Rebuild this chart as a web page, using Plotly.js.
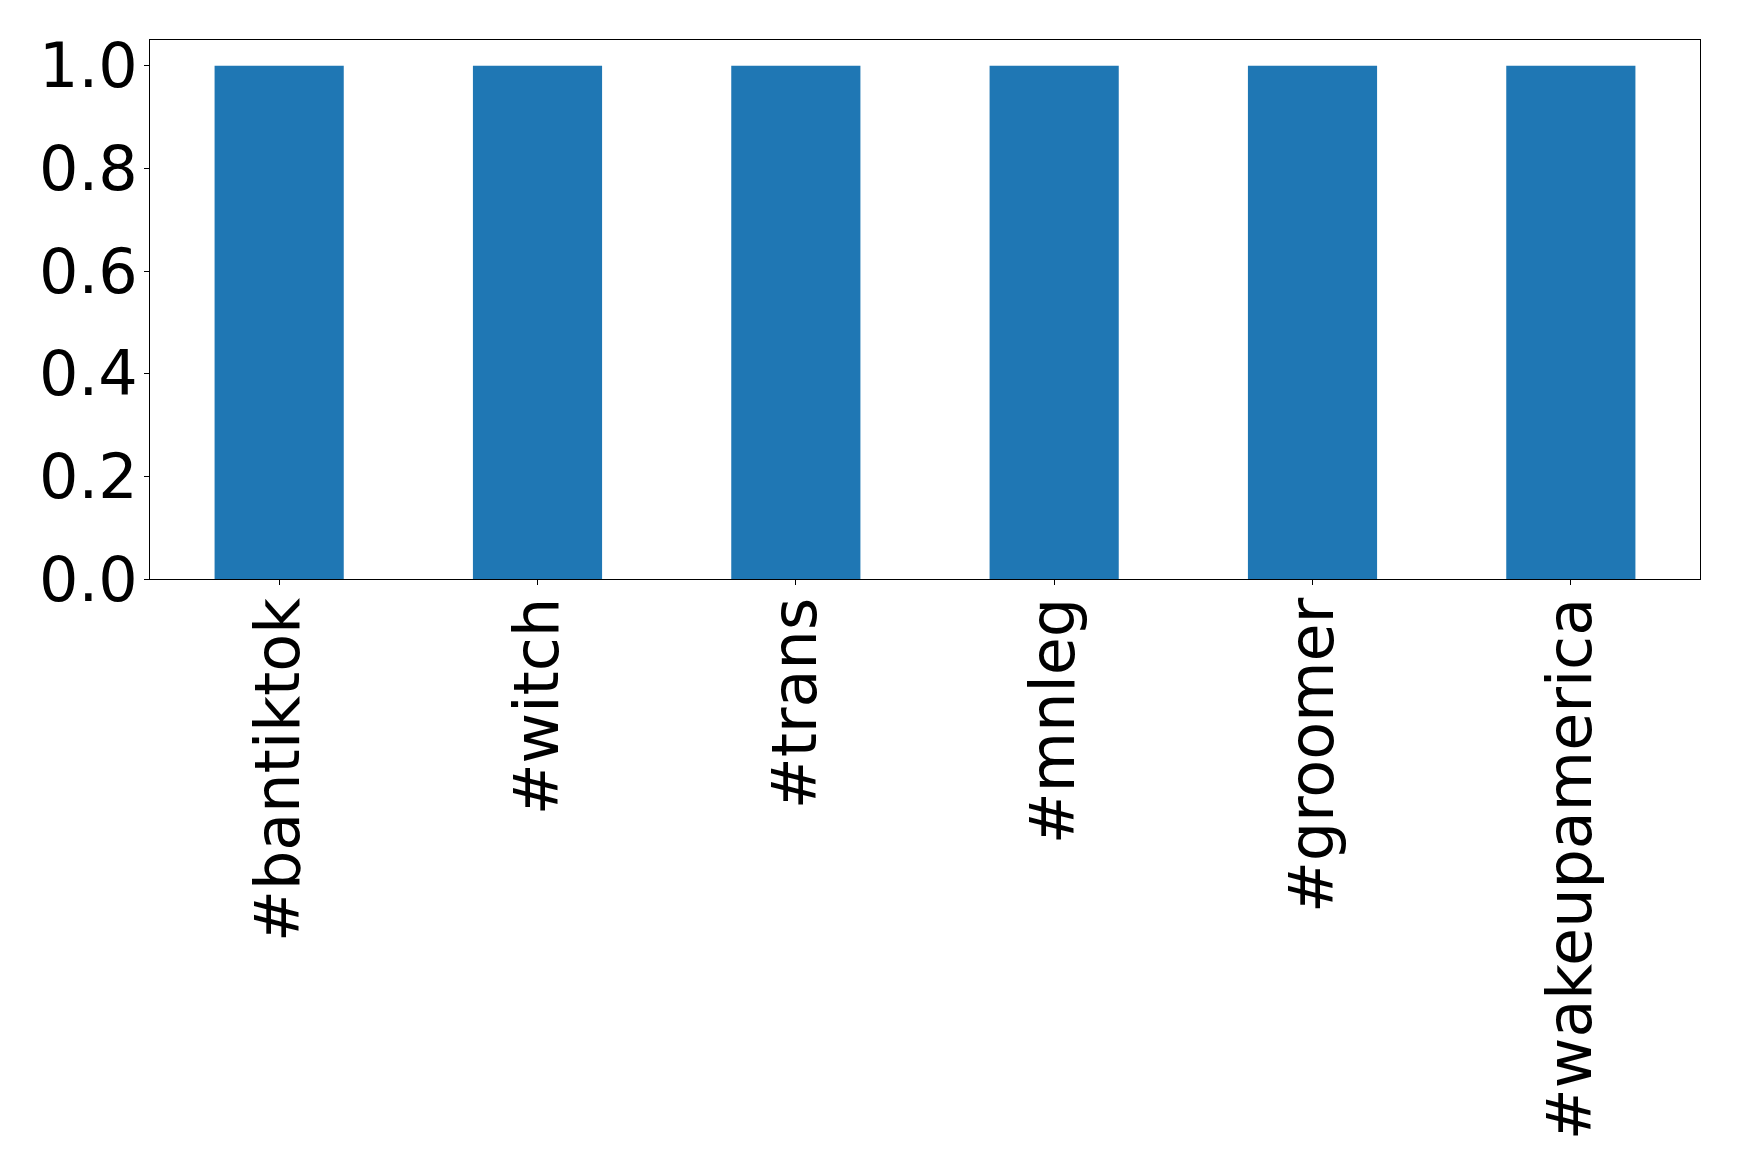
<!DOCTYPE html>
<html>
<head>
<meta charset="utf-8">
<script src="https://cdn.plot.ly/plotly-3.0.1.min.js"></script>
<style>html,body{margin:0;padding:0;background:#fff;}#chart{width:1739px;height:1175px;}</style>
</head>
<body>
<div id="chart"></div>
<script>
const categories = ["#bantiktok", "#witch", "#trans", "#mnleg", "#groomer", "#wakeupamerica"];
const values = [1, 1, 1, 1, 1, 1];
const yTickValues = [0, 0.2, 0.4, 0.6, 0.8, 1.0];

const font = "DejaVu Sans, sans-serif";
Plotly.newPlot("chart", [{
  type: "bar",
  x: categories,
  y: values,
  width: 0.5,
  marker: {color: "#1f77b4", line: {width: 0}},
  hoverinfo: "none"
}], {
  width: 1739,
  height: 1175,
  margin: {l: 150, r: 39, t: 40, b: 596, pad: 0},
  paper_bgcolor: "#fff",
  plot_bgcolor: "#fff",
  showlegend: false,
  font: {family: font, color: "#000"},
  xaxis: {
    type: "category",
    range: [-0.5, 5.5],
    tickangle: -90,
    tickfont: {family: font, size: 62, color: "#000"},
    ticks: "outside", ticklen: 5, tickwidth: 1, tickcolor: "#000",
    showline: true, mirror: true, linecolor: "#000", linewidth: 1,
    showgrid: false, zeroline: false,
    ticklabelstandoff: -12
  },
  yaxis: {
    range: [0, 1.05],
    tickvals: yTickValues,
    tickformat: ".1f",
    tickfont: {family: font, size: 62, color: "#000"},
    ticks: "outside", ticklen: 5, tickwidth: 1, tickcolor: "#000",
    showline: true, mirror: true, linecolor: "#000", linewidth: 1,
    showgrid: false, zeroline: false,
    ticklabelstandoff: -6
  }
}, {staticPlot: true});
</script>
</body>
</html>
